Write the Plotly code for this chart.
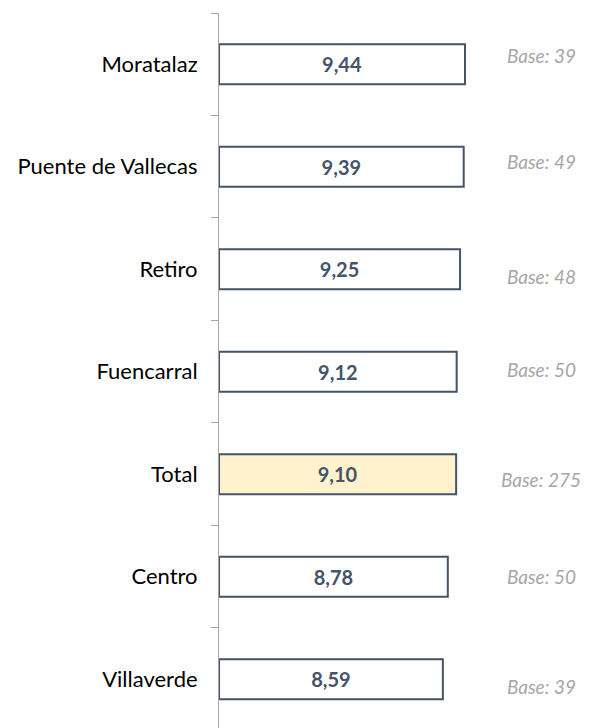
import plotly.graph_objects as go

categories = ["Moratalaz", "Puente de Vallecas", "Retiro", "Fuencarral", "Total", "Centro", "Villaverde"]
values = [9.44, 9.39, 9.25, 9.12, 9.10, 8.78, 8.59]
bases = [39, 49, 48, 50, 275, 50, 39]
base_yshift = [9, 5, -7, 2, -5, 0, -7]

fills = ["#FFF2CC" if c == "Total" else "#FFFFFF" for c in categories]
labels = [f"{v:.2f}".replace(".", ",") for v in values]

FONT = "Lato, Open Sans, sans-serif"

fig = go.Figure()
fig.add_trace(go.Bar(
    y=categories, x=values, orientation="h",
    width=0.39,
    marker=dict(color=fills, line=dict(color="#44546A", width=2)),
    text=labels, textposition="inside", insidetextanchor="middle",
    textfont=dict(family=FONT, size=20, color="#44546A", weight="bold"),
    textangle=0, cliponaxis=False,
    hoverinfo="skip",
))

for c, b, ys in zip(categories, bases, base_yshift):
    fig.add_annotation(
        x=12.36, y=c, xref="x", yref="y", text=f"<i>Base: {b}</i>",
        showarrow=False, yshift=ys,
        font=dict(family=FONT, size=19, color="#A6A6A6"),
    )

fig.update_layout(
    width=586, height=720,
    margin=dict(l=211, r=0, t=5, b=0),
    plot_bgcolor="white", paper_bgcolor="white",
    showlegend=False,
    xaxis=dict(range=[0, 14.39], visible=False, showgrid=False, zeroline=False),
    yaxis=dict(
        type="category", categoryorder="array", categoryarray=categories,
        range=[6.476, -0.5],
        tickson="boundaries", ticks="outside", ticklen=7, tickcolor="#A6A6A6", tickwidth=1,
        showline=True, linecolor="#A6A6A6", linewidth=1,
        showgrid=False, zeroline=False,
        ticklabelstandoff=16,
        tickfont=dict(family=FONT, size=22, color="#000000"),
    ),
)

fig.write_html("out.html")
